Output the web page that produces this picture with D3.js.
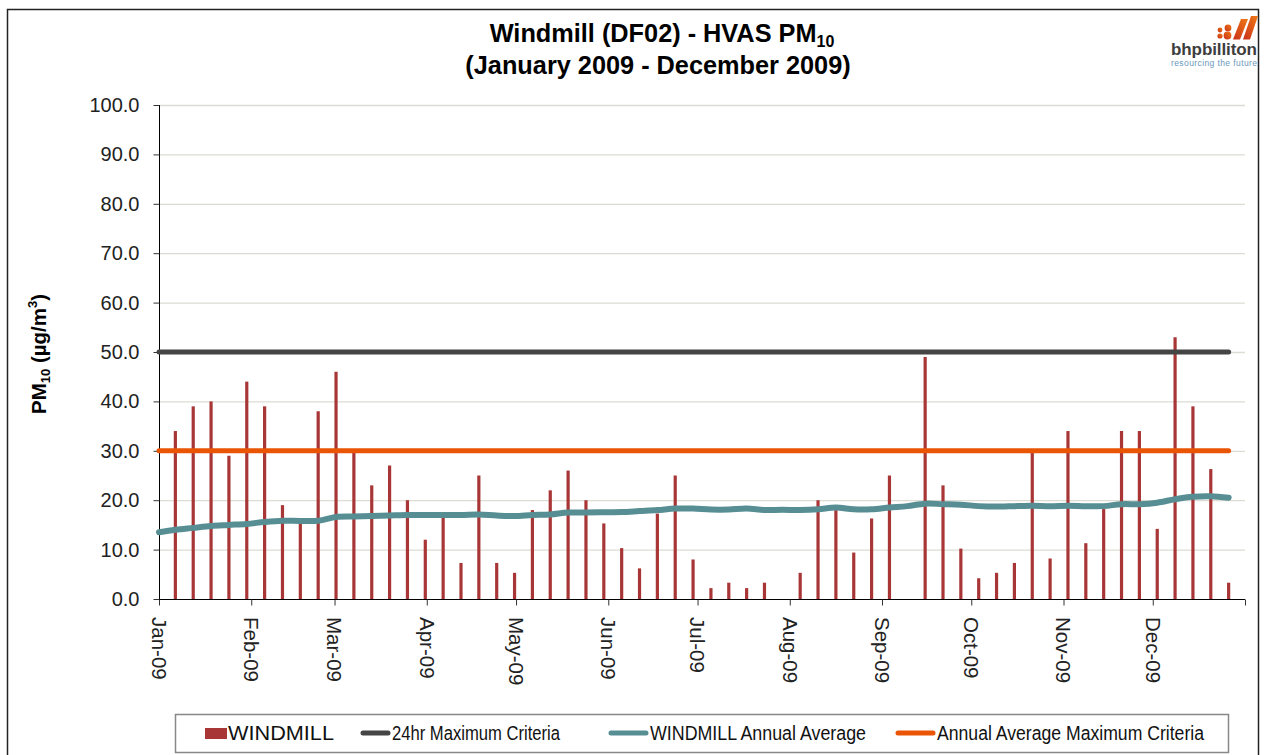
<!DOCTYPE html>
<html>
<head>
<meta charset="utf-8">
<script src="https://cdn.jsdelivr.net/npm/d3@7"></script>
<style>
  html, body { margin: 0; padding: 0; background: #fff; }
  svg { display: block; font-family: "Liberation Sans", Arial, sans-serif; }
</style>
</head>
<body>
<svg id="chart" width="1270" height="755"></svg>
<script>
// HVAS samples, every sixth day (null = no sample)
const sampleDates = [
  "2009-01-06", "2009-01-12", "2009-01-18", "2009-01-24", "2009-01-30",
  "2009-02-05", "2009-02-11", "2009-02-17", "2009-02-23",
  "2009-03-01", "2009-03-07", "2009-03-13", "2009-03-19", "2009-03-25", "2009-03-31",
  "2009-04-06", "2009-04-12", "2009-04-18", "2009-04-24", "2009-04-30",
  "2009-05-06", "2009-05-12", "2009-05-18", "2009-05-24", "2009-05-30",
  "2009-06-05", "2009-06-11", "2009-06-17", "2009-06-23", "2009-06-29",
  "2009-07-05", "2009-07-11", "2009-07-17", "2009-07-23", "2009-07-29",
  "2009-08-04", "2009-08-10", "2009-08-16", "2009-08-22", "2009-08-28",
  "2009-09-03", "2009-09-09", "2009-09-15", "2009-09-21", "2009-09-27",
  "2009-10-03", "2009-10-09", "2009-10-15", "2009-10-21", "2009-10-27",
  "2009-11-02", "2009-11-08", "2009-11-14", "2009-11-20", "2009-11-26",
  "2009-12-02", "2009-12-08", "2009-12-14", "2009-12-20", "2009-12-26"
];
const windmill = [
  34, 39, 40, 29, 44,
  39, 19, 15.5, 38,
  46, 29.6, 23, 27, 20, 12,
  16.4, 7.3, 25, 7.3, 5.3,
  18, 22, 26, 20, 15.3,
  10.3, 6.2, 17.3, 25, 8,
  2.2, 3.3, 2.2, 3.3, null,
  5.3, 20, 18, 9.4, 16.3,
  25, null, 49, 23, 10.2,
  4.2, 5.3, 7.3, 29.6, 8.2,
  34, 11.3, 18.2, 34, 34,
  14.2, 53, 39, 26.3, 3.3
];
// rolling annual average, starting point on 1 January then each sample day
const avgStart = { date: "2009-01-01", value: 13.5 };
const annualAverage = [
  14.0, 14.4, 14.8, 15.0, 15.2,
  15.6, 15.85, 15.8, 15.85,
  16.6, 16.7, 16.8, 16.9, 17.0, 17.0,
  17.0, 17.0, 17.1, 16.9, 16.8,
  17.0, 17.1, 17.5, 17.5, 17.55,
  17.6, 17.8, 18.0, 18.3, 18.3,
  18.1, 18.1, 18.3, 18.0, 18.05,
  18.0, 18.15, 18.5, 18.15, 18.15,
  18.5, 18.8, 19.3, 19.2, 19.1,
  18.8, 18.7, 18.8, 18.9, 18.8,
  18.9, 18.8, 18.8, 19.2, 19.2,
  19.5, 20.2, 20.7, 20.8, 20.5
];
const maxCriteria24hr = 50;
const annualMaxCriteria = 30;
const yTicks = [0, 10, 20, 30, 40, 50, 60, 70, 80, 90, 100];
const monthTicks = [
  "2009-01-01", "2009-02-01", "2009-03-01", "2009-04-01", "2009-05-01", "2009-06-01",
  "2009-07-01", "2009-08-01", "2009-09-01", "2009-10-01", "2009-11-01", "2009-12-01", "2010-01-01"
];
const legendItems = [
  { label: "WINDMILL", type: "bar", color: "#a93636" },
  { label: "24hr Maximum Criteria", type: "line", color: "#454545" },
  { label: "WINDMILL Annual Average", type: "line", color: "#568e94" },
  { label: "Annual Average Maximum Criteria", type: "line", color: "#e95504" }
];

const parse = d3.utcParse("%Y-%m-%d");
const fmtMonth = d3.utcFormat("%b-%y");
const svg = d3.select("#chart");

const margin = { left: 159, right: 1245, top: 105, bottom: 599 };
const x = d3.scaleUtc()
  .domain([parse("2009-01-01"), parse("2010-01-01")])
  .range([margin.left, margin.right]);
const y = d3.scaleLinear().domain([0, 100]).range([margin.bottom, margin.top]);
const mid = d => x(d3.utcHour.offset(d, 12));

// outer frame
svg.append("rect")
  .attr("x", 7.5).attr("y", 9.5).attr("width", 1251).attr("height", 760)
  .attr("fill", "none").attr("stroke", "#222").attr("stroke-width", 1.5);

// title
const title = svg.append("g").attr("font-weight", "bold").attr("fill", "#000")
  .attr("font-size", 25.3).attr("text-anchor", "middle");
const t1 = title.append("text").attr("x", 662).attr("y", 42);
t1.append("tspan").text("Windmill (DF02) - HVAS PM");
t1.append("tspan").attr("font-size", 16).attr("dy", 5).text("10");
title.append("text").attr("x", 658).attr("y", 74).text("(January 2009 - December 2009)");

// logo
const logo = svg.append("g");
const grad = svg.append("defs").append("linearGradient").attr("id", "bhp")
  .attr("x1", 0).attr("y1", 1).attr("x2", 1).attr("y2", 0);
grad.append("stop").attr("offset", 0).attr("stop-color", "#c9301a");
grad.append("stop").attr("offset", 1).attr("stop-color", "#f07a16");
logo.append("circle").attr("cx", 1220).attr("cy", 30).attr("r", 2.4).attr("fill", "url(#bhp)");
logo.append("circle").attr("cx", 1220).attr("cy", 36).attr("r", 2.6).attr("fill", "url(#bhp)");
logo.append("circle").attr("cx", 1228).attr("cy", 28).attr("r", 3.4).attr("fill", "url(#bhp)");
logo.append("circle").attr("cx", 1227.5).attr("cy", 35.5).attr("r", 3.9).attr("fill", "url(#bhp)");
logo.append("path").attr("d", "M1233,39.5 L1241,19 L1248,19 L1240,39.5 Z").attr("fill", "url(#bhp)");
logo.append("path").attr("d", "M1243,39.5 L1251,16 L1258,16 L1250,39.5 Z").attr("fill", "url(#bhp)");
logo.append("text").attr("x", 1171).attr("y", 55).attr("font-size", 17).attr("font-weight", "bold")
  .attr("fill", "#3d3d3d").attr("textLength", 86).text("bhpbilliton");
logo.append("text").attr("x", 1171).attr("y", 66).attr("font-size", 8.5)
  .attr("fill", "#6a98bb").attr("textLength", 86).text("resourcing the future");

// gridlines
svg.append("g").selectAll("line")
  .data(yTicks.filter(v => v > 0))
  .join("line")
  .attr("x1", margin.left).attr("x2", margin.right)
  .attr("y1", d => y(d) + 0.5).attr("y2", d => y(d) + 0.5)
  .attr("stroke", "#dcdcd3").attr("stroke-width", 1.3);

// y axis
const yAxis = svg.append("g")
  .attr("transform", `translate(${margin.left + 0.5},0)`)
  .call(d3.axisLeft(y).tickValues(yTicks).tickFormat(d3.format(".1f")).tickSize(6).tickPadding(14));
yAxis.select(".domain").attr("stroke", "#000").attr("d", `M0,${y(0)}V${y(100)}`);
yAxis.selectAll(".tick line").attr("stroke", "#333");
yAxis.selectAll("text").attr("font-size", 20).attr("fill", "#222")
  .attr("font-family", "'Liberation Sans', Arial, sans-serif");

// x axis
const xAxis = svg.append("g")
  .attr("transform", `translate(0,${margin.bottom + 0.5})`)
  .call(d3.axisBottom(x).tickValues(monthTicks.map(parse)).tickFormat("").tickSize(6));
xAxis.select(".domain").attr("stroke", "#000").attr("d", `M${margin.left},0H${margin.right}`);
xAxis.selectAll(".tick line").attr("stroke", "#333");
svg.append("g").selectAll("text")
  .data(monthTicks.slice(0, 12).map(parse))
  .join("text")
  .attr("transform", d => `translate(${x(d)},${margin.bottom + 18}) rotate(90)`)
  .attr("dy", "0.35em")
  .attr("font-size", 20.5).attr("fill", "#222")
  .text(d => fmtMonth(d));

// y axis title
const yt = svg.append("text")
  .attr("transform", "translate(46,354) rotate(-90)")
  .attr("text-anchor", "middle").attr("font-weight", "bold").attr("font-size", 20.5).attr("fill", "#000");
yt.append("tspan").text("PM");
yt.append("tspan").attr("font-size", 13).attr("dy", 4).text("10");
yt.append("tspan").attr("dy", -4).text(" (\u00b5g/m");
yt.append("tspan").attr("font-size", 13).attr("dy", -9).text("3");
yt.append("tspan").attr("dy", 9).text(")");

// data
const samples = sampleDates.map((d, i) => ({ date: parse(d), value: windmill[i], avg: annualAverage[i] }));
const lastDate = samples[samples.length - 1].date;

svg.append("g").selectAll("line")
  .data(samples.filter(d => d.value != null))
  .join("line")
  .attr("x1", d => mid(d.date)).attr("x2", d => mid(d.date))
  .attr("y1", y(0)).attr("y2", d => y(d.value))
  .attr("stroke", "#a93636").attr("stroke-width", 3.2);

const criteria = (value, color) => svg.append("line")
  .attr("x1", x(parse("2009-01-01"))).attr("x2", mid(lastDate))
  .attr("y1", y(value)).attr("y2", y(value))
  .attr("stroke", color).attr("stroke-width", 5).attr("stroke-linecap", "round");

criteria(maxCriteria24hr, "#454545");

const avgPoints = [{ x: x(parse(avgStart.date)), v: avgStart.value }]
  .concat(samples.map(d => ({ x: mid(d.date), v: d.avg })));
svg.append("path")
  .datum(avgPoints)
  .attr("fill", "none").attr("stroke", "#568e94").attr("stroke-width", 6)
  .attr("stroke-linecap", "round").attr("stroke-linejoin", "round")
  .attr("d", d3.line().x(d => d.x).y(d => y(d.v)).curve(d3.curveCatmullRom.alpha(0.5)));

criteria(annualMaxCriteria, "#e95504");

// legend
const lg = svg.append("g");
lg.append("rect").attr("x", 175.5).attr("y", 714.5).attr("width", 1053).attr("height", 38)
  .attr("fill", "#fff").attr("stroke", "#888").attr("stroke-width", 1.5);
const legendX = [205, 360, 608, 895];
const legendTextW = [106, 168, 216, 267];
legendItems.forEach((it, i) => {
  const g = lg.append("g").attr("transform", `translate(${legendX[i]},733)`);
  if (it.type === "bar") {
    g.append("rect").attr("x", 0).attr("y", -5).attr("width", 22).attr("height", 11).attr("fill", it.color);
  } else {
    g.append("line").attr("x1", 3).attr("x2", it.label === "24hr Maximum Criteria" ? 28 : 38)
      .attr("y1", 0).attr("y2", 0)
      .attr("stroke", it.color).attr("stroke-width", 5).attr("stroke-linecap", "round");
  }
  g.append("text")
    .attr("x", it.type === "bar" ? 23 : (it.label === "24hr Maximum Criteria" ? 32 : 42))
    .attr("y", 0).attr("dy", "0.36em")
    .attr("font-family", "'Liberation Sans Narrow', 'Arial Narrow', 'Liberation Sans', sans-serif")
    .attr("font-size", 20).attr("fill", "#111")
    .attr("textLength", legendTextW[i]).attr("lengthAdjust", "spacingAndGlyphs")
    .text(it.label);
});
</script>
</body>
</html>
